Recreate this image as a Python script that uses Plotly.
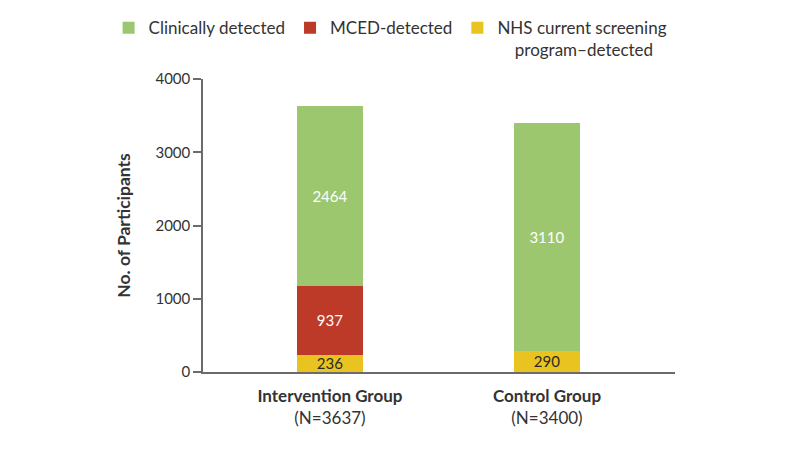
import plotly.graph_objects as go

groups = ["Intervention Group", "Control Group"]
group_n = [3637, 3400]
nhs_detected = [236, 290]
mced_detected = [937, 0]
clinical_detected = [2464, 3110]

tick_text = [f"<b>{g}</b><br>(N={n})" for g, n in zip(groups, group_n)]

green = "#9cc76e"
red = "#be3a28"
yellow = "#e9c31f"
font_family = "Lato"
nbsp = "\u00a0"

fig = go.Figure()

fig.add_trace(go.Bar(
    x=groups, y=nhs_detected,
    name="NHS current screening<br>" + nbsp * 4 + "program\u2013detected",
    marker_color=yellow, text=nhs_detected, textposition="inside",
    insidetextanchor="middle", constraintext="none",
    textfont=dict(color="#2a2a2a", size=15), legendrank=3,
))
fig.add_trace(go.Bar(
    x=groups, y=mced_detected, name="MCED-detected",
    marker_color=red, text=[str(v) if v else "" for v in mced_detected],
    textposition="inside", insidetextanchor="middle", constraintext="none",
    textfont=dict(color="white", size=15), legendrank=2,
))
fig.add_trace(go.Bar(
    x=groups, y=clinical_detected, name="Clinically detected",
    marker_color=green, text=clinical_detected, textposition="inside",
    insidetextanchor="middle", constraintext="none",
    textfont=dict(color="white", size=15), legendrank=1,
))

fig.update_traces(width=0.3, marker_line_width=0)

# the page adds an 8px body margin, so the margins are trimmed to match
fig.update_layout(
    barmode="stack",
    width=800, height=450,
    margin=dict(l=195, r=133, t=71, b=86, autoexpand=False),
    paper_bgcolor="white", plot_bgcolor="white",
    font=dict(family=font_family, color="#333333", size=14),
    showlegend=True,
    legend=dict(
        orientation="h", x=-0.2, y=1.235, xanchor="left", yanchor="top",
        font=dict(size=17, color="#333333"), traceorder="normal",
        itemwidth=30, valign="top",
    ),
    xaxis=dict(
        tickmode="array", tickvals=groups, ticktext=tick_text,
        range=[-0.585, 1.59], showline=True, linecolor="#6b6b6b",
        linewidth=1.5, ticks="", tickfont=dict(size=17, color="#333333"),
        showgrid=False, ticklabelstandoff=8,
    ),
    yaxis=dict(
        range=[0, 4000], tickvals=[0, 1000, 2000, 3000, 4000],
        showline=True, linecolor="#6b6b6b", linewidth=1.5,
        ticks="outside", ticklen=8, tickcolor="#6b6b6b", tickwidth=1.5,
        showgrid=False, zeroline=False,
        tickfont=dict(size=15, color="#333333"),
        title=dict(text="<b>No. of Participants</b>", font=dict(size=17.5, color="#333333"), standoff=20),
    ),
)

fig.write_html("out.html")
